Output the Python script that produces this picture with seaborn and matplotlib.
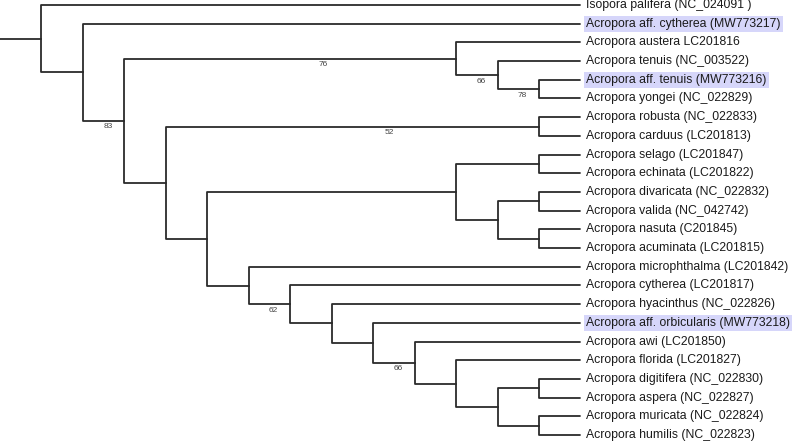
#!/usr/bin/env python3
# coding=utf-8
# Cladogram of Acropora mitogenomes with bootstrap support values.

from matplotlib import pyplot as plt
import pandas as pd
import seaborn as sns

leaf_names = [
    "Isopora palifera (NC_024091 )",
    "Acropora aff. cytherea (MW773217)",
    "Acropora austera LC201816",
    "Acropora tenuis (NC_003522)",
    "Acropora aff. tenuis (MW773216)",
    "Acropora yongei (NC_022829)",
    "Acropora robusta (NC_022833)",
    "Acropora carduus (LC201813)",
    "Acropora selago (LC201847)",
    "Acropora echinata (LC201822)",
    "Acropora divaricata (NC_022832)",
    "Acropora valida (NC_042742)",
    "Acropora nasuta (C201845)",
    "Acropora acuminata (LC201815)",
    "Acropora microphthalma (LC201842)",
    "Acropora cytherea (LC201817)",
    "Acropora hyacinthus (NC_022826)",
    "Acropora aff. orbicularis (MW773218)",
    "Acropora awi (LC201850)",
    "Acropora florida (LC201827)",
    "Acropora digitifera (NC_022830)",
    "Acropora aspera (NC_022827)",
    "Acropora muricata (NC_022824)",
    "Acropora humilis (NC_022823)",
]

highlighted = [
    "Acropora aff. cytherea (MW773217)",
    "Acropora aff. tenuis (MW773216)",
    "Acropora aff. orbicularis (MW773218)",
]

# topology in newick form, leaves as indices into leaf_names, support after ')'
newick = ("(0,(1,((2,(3,(4,5)78)66)76,((6,7)52,(((8,9),((10,11),(12,13))),"
          "(14,(15,(16,(17,(18,(19,((20,21),(22,23))))66)))62))))83));")


def parse(s):
    """Tiny newick parser -> nested dicts."""
    pos = 0

    def node():
        nonlocal pos
        if s[pos] == "(":
            pos += 1
            kids = [node()]
            while s[pos] == ",":
                pos += 1
                kids.append(node())
            pos += 1  # ')'
            start = pos
            while s[pos] not in ",);":
                pos += 1
            return {"children": kids, "support": s[start:pos] or None}
        start = pos
        while s[pos] not in ",);":
            pos += 1
        return {"leaf": int(s[start:pos])}

    return node()


def layout(n):
    """Assign height (distance from tips in levels) and y position."""
    if "leaf" in n:
        n["h"] = 0
        n["y"] = n["leaf"]
        return
    for c in n["children"]:
        layout(c)
    n["h"] = 1 + max(c["h"] for c in n["children"])
    ys = [c["y"] for c in n["children"]]
    n["y"] = (min(ys) + max(ys)) / 2


tree = parse(newick)
layout(tree)
depth = tree["h"]

rows = []
supports = []
seg = 0


def collect(n):
    global seg
    if "leaf" in n:
        return
    px = depth - n["h"]
    for c in n["children"]:
        cx = depth - c["h"]
        for x, y in [(px, n["y"]), (px, c["y"]), (cx, c["y"])]:
            rows.append({"seg": seg, "x": x, "y": y})
        seg += 1
        if c.get("support"):
            supports.append((px + 0.6 * (cx - px), c["y"], c["support"]))
        collect(c)


collect(tree)
# root stem
rows.append({"seg": seg, "x": -1, "y": tree["y"]})
rows.append({"seg": seg, "x": 0, "y": tree["y"]})
df = pd.DataFrame(rows)

sns.set_theme(style="white")
plt.rcParams["font.family"] = ["Liberation Sans", "DejaVu Sans"]

fig = plt.figure(figsize=(7.93, 4.42), dpi=100)
ax = fig.add_axes([0, 0, 1, 1])
sns.lineplot(data=df, x="x", y="y", units="seg", estimator=None, sort=False,
             color="#2b2b2b", linewidth=1.3, ax=ax, legend=False)

step_px = 41.46
ax.set_xlim(-1, (793 - step_px) / step_px)
ax.set_ylim((442 - 5) / 18.7, -5 / 18.7)

for i, name in enumerate(leaf_names):
    kw = {}
    if name in highlighted:
        kw["bbox"] = dict(boxstyle="square,pad=0.16", facecolor="#d6d6fa",
                          edgecolor="none")
    ax.text(depth + 6 / step_px, i, name, fontsize=8.8, va="center", ha="left",
            color="#1a1a1a", **kw)

for x, y, s in supports:
    ax.text(x, y + 2.5 / 18.7, s, fontsize=6, ha="center", va="top",
            color="#444444")

ax.set_axis_off()
fig.savefig("out.png", dpi=100)
